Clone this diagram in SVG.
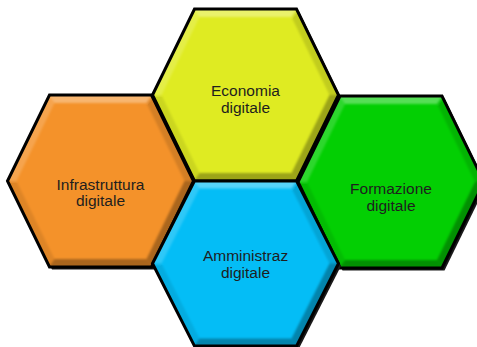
<svg xmlns="http://www.w3.org/2000/svg" xmlns:xlink="http://www.w3.org/1999/xlink" width="477" height="347" viewBox="0 0 477 347">
<style>
.lbl{font-family:"Liberation Sans",Arial,sans-serif;font-size:15.5px;fill:#1e1e1e;text-anchor:middle}
.hexo{stroke:#000;stroke-width:3;stroke-linejoin:miter}
</style>
<defs>
<polygon id="hex" points="-93,0 -51,-86 51,-86 93,0 51,86 -51,86"/>
<clipPath id="hclip"><polygon points="-93,0 -51,-86 51,-86 93,0 51,86 -51,86"/></clipPath>
<filter id="soft" x="-10%" y="-10%" width="120%" height="120%"><feGaussianBlur stdDeviation="0.9"/></filter>
<g id="bevel">
<g clip-path="url(#hclip)">
<g filter="url(#soft)">
<polygon points="-53,-88 53,-88 46,-78 -46,-78" fill="#fff" fill-opacity="0.33"/>
<polygon points="-95,0 -53,-88 -46,-78 -84,0" fill="#fff" fill-opacity="0.17"/>
<polygon points="53,-88 95,0 84,0 46,-78" fill="#000" fill-opacity="0.13"/>
<polygon points="95,0 53,88 46,78 84,0" fill="#000" fill-opacity="0.3"/>
<polygon points="53,88 -53,88 -46,78 46,78" fill="#000" fill-opacity="0.3"/>
<polygon points="-53,88 -95,0 -84,0 -46,78" fill="#000" fill-opacity="0.09"/>
</g>
</g>
</g>
</defs>
<g id="connectors"></g>
<g id="economia" transform="translate(245.5,95)">
<use xlink:href="#hex" transform="translate(2.5,2.5)" fill="#1a1a1a"/>
<use xlink:href="#hex" fill="#dfeb22"/>
<use xlink:href="#bevel"/>
<use xlink:href="#hex" class="hexo" fill="none"/>
<text class="lbl" x="0" y="1">Economia</text>
<text class="lbl" x="0" y="18">digitale</text>
</g>
<g id="infrastruttura" transform="translate(100.5,181)">
<use xlink:href="#hex" transform="translate(2.5,2.5)" fill="#1a1a1a"/>
<use xlink:href="#hex" fill="#f4922a"/>
<use xlink:href="#bevel"/>
<use xlink:href="#hex" class="hexo" fill="none"/>
<text class="lbl" x="0" y="9">Infrastruttura</text>
<text class="lbl" x="0" y="25">digitale</text>
</g>
<g id="formazione" transform="translate(391,182)">
<use xlink:href="#hex" transform="translate(2.5,2.5)" fill="#1a1a1a"/>
<use xlink:href="#hex" fill="#03cf03"/>
<use xlink:href="#bevel"/>
<use xlink:href="#hex" class="hexo" fill="none"/>
<text class="lbl" x="0" y="12">Formazione</text>
<text class="lbl" x="0" y="29">digitale</text>
</g>
<g id="amministrazione" transform="translate(245.5,263.5)">
<g transform="scale(1,0.96)">
<use xlink:href="#hex" transform="translate(2.5,2.5)" fill="#1a1a1a"/>
<use xlink:href="#hex" fill="#04bdf6"/>
<use xlink:href="#bevel"/>
<use xlink:href="#hex" class="hexo" fill="none"/>
</g>
<text class="lbl" x="0" y="-3">Amministraz</text>
<text class="lbl" x="0" y="14">digitale</text>
</g>
</svg>
